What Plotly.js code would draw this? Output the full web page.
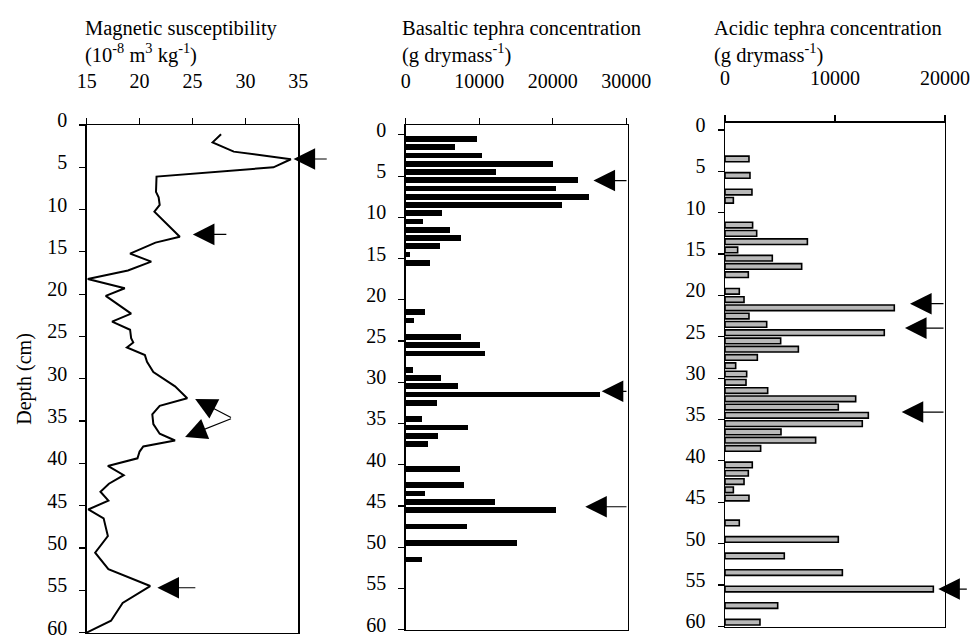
<!DOCTYPE html>
<html>
<head>
<meta charset="utf-8">
<script src="https://cdn.plot.ly/plotly-3.0.1.min.js"></script>
<style>html,body{margin:0;padding:0;background:#fff;}#chart{width:973px;height:637px;}</style>
</head>
<body>
<div id="chart"></div>
<script>
// ---- Magnetic susceptibility profile ----
const magDepth = [1.1, 2.05, 3.15, 4.05, 5.0, 6.1, 7.9, 8.55, 9.45, 10.25, 13.2, 13.9, 15.2, 16.15, 17.2, 18.2, 19.3, 20.2, 22.3, 23.25, 24.2, 25.2, 25.7, 26.3, 27.2, 28.0, 29.2, 30.9, 32.3, 33.2, 34.2, 35.35, 36.5, 37.3, 38.0, 38.6, 39.4, 40.3, 41.4, 42.4, 43.35, 44.4, 45.45, 46.5, 48.6, 50.55, 52.5, 54.5, 56.5, 58.6, 60];
const magValue = [27.7, 26.9, 28.9, 34.3, 32.65, 21.6, 21.55, 21.8, 21.9, 21.4, 23.8, 21.5, 19.1, 21.1, 18.9, 15.1, 18.6, 16.8, 19.2, 17.4, 19.1, 19.2, 19.4, 18.8, 20.5, 20.7, 21.3, 23.35, 24.5, 21.9, 21.2, 21.3, 21.9, 23.35, 20.35, 20.0, 19.8, 17.0, 18.5, 17.1, 16.3, 17.05, 15.15, 16.6, 17.0, 15.8, 17.05, 21.0, 18.4, 17.3, 15.0];

// ---- Basaltic tephra concentration ----
const basDepth = [0.5, 1.5, 2.5, 3.5, 4.5, 5.5, 6.5, 7.5, 8.5, 9.5, 10.5, 11.5, 12.5, 13.5, 14.5, 15.5, 21.5, 22.5, 24.5, 25.5, 26.5, 28.5, 29.5, 30.5, 31.5, 32.5, 34.5, 35.5, 36.5, 37.5, 40.5, 42.5, 43.5, 44.5, 45.5, 47.5, 49.5, 51.5];
const basValue = [9660, 6700, 10420, 20000, 12240, 23400, 20400, 24980, 21300, 4980, 2310, 5990, 7520, 4670, 590, 3350, 2630, 1170, 7520, 10100, 10790, 1040, 4760, 7070, 26430, 4220, 2180, 8520, 4350, 3080, 7390, 7930, 2630, 12150, 20400, 8300, 15190, 2180];

// ---- Acidic tephra concentration ----
const acidDepth = [3.5, 5.5, 7.5, 8.5, 11.5, 12.5, 13.5, 14.5, 15.5, 16.5, 17.5, 19.5, 20.5, 21.5, 22.5, 23.5, 24.5, 25.5, 26.5, 27.5, 28.5, 29.5, 30.5, 31.5, 32.5, 33.5, 34.5, 35.5, 36.5, 37.5, 38.5, 40.5, 41.5, 42.5, 43.5, 44.5, 47.5, 49.5, 51.5, 53.5, 55.5, 57.5, 59.5];
const acidValue = [2180, 2270, 2450, 760, 2510, 2880, 7490, 1150, 4300, 6970, 2120, 1300, 1730, 15390, 2180, 3790, 14480, 5060, 6670, 2940, 970, 1970, 1910, 3880, 11880, 10300, 13030, 12480, 5090, 8240, 3240, 2480, 2120, 1730, 760, 2180, 1300, 10300, 5390, 10670, 18940, 4790, 3180];

// ---- Marker arrows (tip and tail, in data units) ----
const magArrowDepth = [4.02, 12.93, 32.39, 36.88, 54.7];
const magArrowValue = [34.55, 25.03, 25.25, 24.3, 21.68];
const magArrowTailDepth = [4.02, 12.93, 34.66, 34.66, 54.7];
const magArrowTailValue = [37.83, 28.34, 28.78, 28.78, 25.41];

const basArrowDepth = [5.54, 31.1, 45.1];
const basArrowValue = [25550, 26670, 24430];
const basArrowTailValue = [30250, 30250, 30250];

const acidArrowDepth = [21.0, 23.95, 34.1, 55.5];
const acidArrowValue = [16820, 16360, 16060, 19390];
const acidArrowTailValue = [20000, 20000, 20000, 22120];

const headers = [
  'Magnetic susceptibility<br>(10<sup>-8</sup> m<sup>3</sup> kg<sup>-1</sup>)',
  'Basaltic tephra concentration<br>(g drymass<sup>-1</sup>)',
  'Acidic tephra concentration<br>(g drymass<sup>-1</sup>)'
];
const depthTitle = 'Depth (cm)';

// ---- Layout helpers ----
const W = 973, H = 637;
const px = v => v / W;
const py = v => 1 - v / H;
const font = (size) => ({family: 'Liberation Serif', size: size || 20, color: '#000'});

const traces = [
  {type: 'scatter', mode: 'lines', x: magValue, y: magDepth, xaxis: 'x', yaxis: 'y',
   line: {color: '#000', width: 2}, hoverinfo: 'skip'},
  {type: 'bar', orientation: 'h', x: basValue, y: basDepth, xaxis: 'x2', yaxis: 'y2',
   width: 0.7, marker: {color: '#000', line: {width: 0}}, hoverinfo: 'skip'},
  {type: 'bar', orientation: 'h', x: acidValue, y: acidDepth, xaxis: 'x3', yaxis: 'y3',
   width: 0.68, marker: {color: '#b8b8b8', line: {color: '#000', width: 1.6}}, hoverinfo: 'skip'}
];

function xax(domain, range, dtick, anchor) {
  return {domain: domain, range: range, anchor: anchor, side: 'top', dtick: dtick, tick0: 0,
    tickformat: 'd',
    ticks: 'outside', ticklen: 6, tickwidth: 1.2, tickcolor: '#000',
    showline: true, mirror: true, linewidth: 1.4, linecolor: '#000',
    showgrid: false, zeroline: false, ticklabelstandoff: 22, tickfont: font(20), fixedrange: true};
}
function yax(domain, range, anchor, extra) {
  return Object.assign({domain: domain, range: range, anchor: anchor, dtick: 5, tick0: 0,
    ticks: 'outside', ticklen: 6, tickwidth: 1.2, tickcolor: '#000',
    showline: true, mirror: true, linewidth: 1.4, linecolor: '#000',
    showgrid: false, zeroline: false, ticklabelstandoff: 8, ticklabelshift: 5,
    ticklabeloverflow: 'allow', tickfont: font(20), fixedrange: true}, extra || {});
}

const annotations = [];
const headerX = [83, 400, 712];
headers.forEach((t, i) => annotations.push({
  xref: 'paper', yref: 'paper', x: px(headerX[i]), y: py(15), xanchor: 'left', yanchor: 'top',
  align: 'left', text: t, showarrow: false, font: font(20.5)
}));

function arrow(xr, yr, x, y, ax, ay) {
  annotations.push({xref: xr, yref: yr, axref: xr, ayref: yr, x: x, y: y, ax: ax, ay: ay,
    text: '', showarrow: true, arrowhead: 2, arrowsize: 3.6, arrowwidth: 1.2, arrowcolor: '#000', standoff: 0});
}
magArrowDepth.forEach((d, i) => arrow('x', 'y', magArrowValue[i], d, magArrowTailValue[i], magArrowTailDepth[i]));
basArrowDepth.forEach((d, i) => arrow('x2', 'y2', basArrowValue[i], d, basArrowTailValue[i], d));
acidArrowDepth.forEach((d, i) => arrow('x3', 'y3', acidArrowValue[i], d, acidArrowTailValue[i], d));

const layout = {
  width: W, height: H, margin: {l: 0, r: 0, t: 0, b: 0}, showlegend: false,
  paper_bgcolor: '#fff', plot_bgcolor: '#fff', font: font(20), bargap: 0,
  xaxis: xax([px(86.7), px(298.3)], [15, 35], 5, 'y'),
  yaxis: yax([1 - 633 / H, py(125)], [60.05, 0], 'x', {title: {text: depthTitle, font: font(20), standoff: 10}}),
  xaxis2: xax([px(405.7), px(628)], [0, 30250], 10000, 'y2'),
  yaxis2: yax([1 - 630 / H, py(125)], [60.05, -1.2], 'x2'),
  xaxis3: xax([px(725), px(945)], [0, 20000], 10000, 'y3'),
  yaxis3: yax([1 - 626.7 / H, py(122.7)], [60.05, -0.88], 'x3'),
  annotations: annotations
};

Plotly.newPlot('chart', traces, layout, {displayModeBar: false, staticPlot: true});
</script>
</body>
</html>
